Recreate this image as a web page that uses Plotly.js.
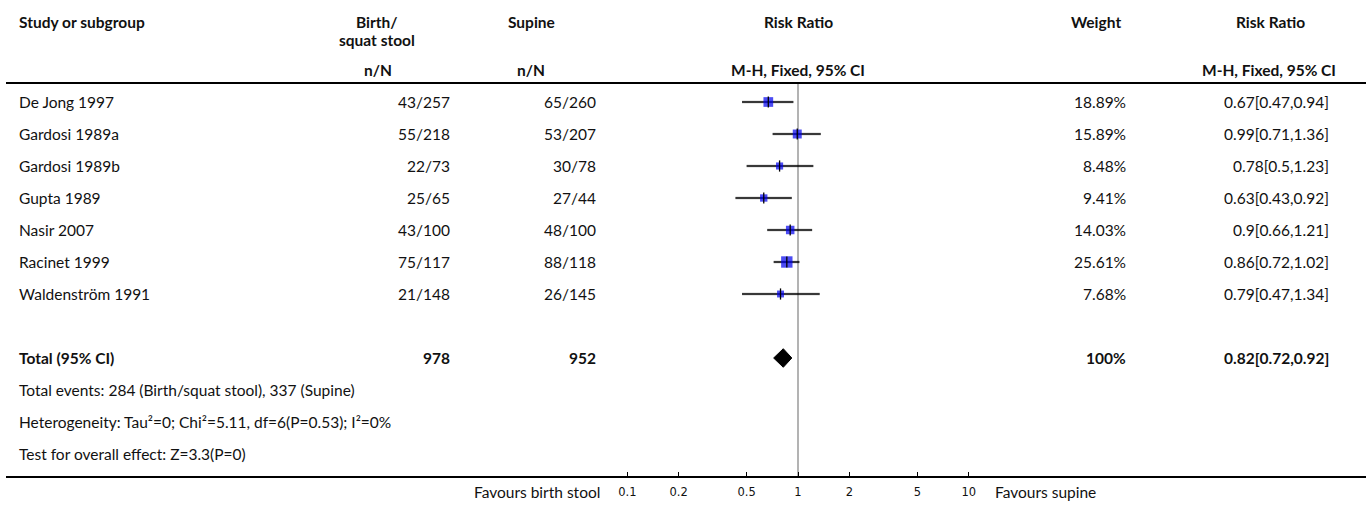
<!DOCTYPE html>
<html>
<head>
<meta charset="utf-8">
<script src="https://cdn.plot.ly/plotly-3.0.1.min.js"></script>
<style>html,body{margin:0;padding:0;background:#fff;}#chart{width:1370px;height:507px;}</style>
</head>
<body>
<div id="chart"></div>
<script>
// ---- data ----
const studies = ["De Jong 1997","Gardosi 1989a","Gardosi 1989b","Gupta 1989","Nasir 2007","Racinet 1999","Waldenström 1991"];
const stoolEvents = [43,55,22,25,43,75,21];
const stoolTotal  = [257,218,73,65,100,117,148];
const supineEvents = [65,53,30,27,48,88,26];
const supineTotal  = [260,207,78,44,100,118,145];
const weights = [18.89,15.89,8.48,9.41,14.03,25.61,7.68];
const rr    = [0.67,0.99,0.78,0.63,0.9,0.86,0.79];
const rrLow = [0.47,0.71,0.5,0.43,0.66,0.72,0.47];
const rrHigh= [0.94,1.36,1.23,0.92,1.21,1.02,1.34];
const totalLabel = "Total (95% CI)";
const totalStool = 978;
const totalSupine = 952;
const totalWeight = "100%";
const totalRR = 0.82, totalLow = 0.72, totalHigh = 0.92;
const footnotes = [
  "Total events: 284 (Birth/squat stool), 337 (Supine)",
  "Heterogeneity: Tau\u00b2=0; Chi\u00b2=5.11, df=6(P=0.53); I\u00b2=0%",
  "Test for overall effect: Z=3.3(P=0)"
];
const tickVals = [0.1,0.2,0.5,1,2,5,10];
const tickText = ["0.1","0.2","0.5","1","2","5","10"];
const favourLeft = "Favours birth stool";
const favourRight = "Favours supine";

// ---- layout helpers ----
const W = 1370, H = 507;
const FONT = 'Lato, "Noto Sans", sans-serif';
const FS = 15.5;
const px = v => v / W;
const py = v => (H - v) / H;
const pxPerDecade = 170.7, oneAt = 798;
const xL = 6, xR = 1366;
const logAt = p => (p - oneAt) / pxPerDecade;
const rowTop = -0.5625, rowBottom = 11.6875;
const totalRow = 8, noteRow0 = 9;

const ann = [];
function txt(text, x, y, anchor, bold) {
  ann.push({text: bold ? '<b>' + text + '</b>' : text, xref: 'paper', yref: 'y',
    x: px(x), y: y, xanchor: anchor, yanchor: 'middle', showarrow: false,
    font: {family: FONT, size: FS, color: '#111'}});
}
function hdr(text, x, ypx, anchor) {
  ann.push({text: '<b>' + text + '</b>', xref: 'paper', yref: 'paper',
    x: px(x), y: py(ypx), xanchor: anchor, yanchor: 'middle', showarrow: false,
    font: {family: FONT, size: FS, color: '#111'}});
}
// headers
hdr("Study or subgroup", 17, 22, 'left');
hdr("Birth/", 377, 22, 'center');
hdr("squat stool", 377, 40, 'center');
hdr("Supine", 531, 22, 'center');
hdr("Risk Ratio", 798, 22, 'center');
hdr("Weight", 1096, 22, 'center');
hdr("Risk Ratio", 1270, 22, 'center');
hdr("n/N", 378, 70, 'center');
hdr("n/N", 531, 70, 'center');
hdr("M-H, Fixed, 95% CI", 798, 70, 'center');
hdr("M-H, Fixed, 95% CI", 1269, 70, 'center');
// rows
studies.forEach((s, i) => {
  txt(s, 17, i, 'left');
  txt(stoolEvents[i] + '/' + stoolTotal[i], 452, i, 'right');
  txt(supineEvents[i] + '/' + supineTotal[i], 598, i, 'right');
  txt(weights[i].toFixed(2) + '%', 1128, i, 'right');
  txt(rr[i] + '[' + rrLow[i] + ',' + rrHigh[i] + ']', 1331, i, 'right');
});
txt(totalLabel, 17, totalRow, 'left', true);
txt(String(totalStool), 452, totalRow, 'right', true);
txt(String(totalSupine), 598, totalRow, 'right', true);
txt(totalWeight, 1128, totalRow, 'right', true);
txt(totalRR + '[' + totalLow + ',' + totalHigh + ']', 1331, totalRow, 'right', true);
footnotes.forEach((f, k) => txt(f, 17, noteRow0 + k, 'left'));
// favours labels
ann.push({text: favourLeft, xref: 'paper', yref: 'paper', x: px(602), y: py(492),
  xanchor: 'right', yanchor: 'middle', showarrow: false, font: {family: FONT, size: FS, color: '#111'}});
ann.push({text: favourRight, xref: 'paper', yref: 'paper', x: px(993), y: py(492),
  xanchor: 'left', yanchor: 'middle', showarrow: false, font: {family: FONT, size: FS, color: '#111'}});

// ---- traces ----
const ciX = [], ciY = [];
rr.forEach((v, i) => { ciX.push(rrLow[i], rrHigh[i], null); ciY.push(i, i, null); });
const halo = {x: ciX, y: ciY, type: 'scatter', mode: 'lines', hoverinfo: 'skip',
  line: {color: 'rgba(0,0,0,0.12)', width: 3.5}, showlegend: false};
const ci = {x: ciX, y: ciY, type: 'scatter', mode: 'lines', hoverinfo: 'skip',
  line: {color: '#000', width: 1.5}, showlegend: false};
const squares = {x: rr, y: studies.map((s, i) => i), type: 'scatter', mode: 'markers',
  marker: {symbol: 'square', color: '#0000ee', size: weights.map(w => 5 + w * 0.25), line: {width: 0}},
  showlegend: false};
const ticksMark = {x: rr, y: studies.map((s, i) => i), type: 'scatter', mode: 'markers',
  marker: {symbol: 'line-ns', size: 8, line: {color: '#000', width: 1.3}}, showlegend: false};
const dh = 0.29;
const diamond = {x: [totalLow, totalRR, totalHigh, totalRR, totalLow],
  y: [totalRow, totalRow - dh, totalRow, totalRow + dh, totalRow],
  type: 'scatter', mode: 'lines', fill: 'toself', fillcolor: '#000',
  line: {color: '#000', width: 1}, showlegend: false};

const yBot = py(476), yTop = py(84);
const layout = {
  width: W, height: H, margin: {l: 0, r: 0, t: 0, b: 0, pad: 0},
  paper_bgcolor: '#fff', plot_bgcolor: 'rgba(0,0,0,0)', showlegend: false,
  font: {family: FONT, color: '#111'},
  xaxis: {type: 'log', domain: [px(xL), px(xR)], range: [logAt(xL), logAt(xR)],
    tickvals: tickVals, ticktext: tickText, ticks: 'inside', ticklen: 4, tickwidth: 1,
    tickcolor: '#000', showline: true, linecolor: '#000', linewidth: 1.6, mirror: true,
    showgrid: false, zeroline: false, fixedrange: true, ticklabelstandoff: 5,
    tickfont: {family: '"DejaVu Sans", sans-serif', size: 11.5, color: '#111'}},
  yaxis: {domain: [yBot, yTop], range: [rowBottom, rowTop], showgrid: false, zeroline: false,
    showticklabels: false, showline: false, ticks: '', fixedrange: true},
  shapes: [{type: 'line', xref: 'x', yref: 'paper', x0: 1, x1: 1, y0: yBot, y1: yTop,
    line: {color: '#9a9a9a', width: 1.5}, layer: 'below'}],
  annotations: ann
};
Plotly.newPlot('chart', [halo, ci, squares, ticksMark, diamond], layout, {staticPlot: true, displayModeBar: false});
</script>
</body>
</html>
